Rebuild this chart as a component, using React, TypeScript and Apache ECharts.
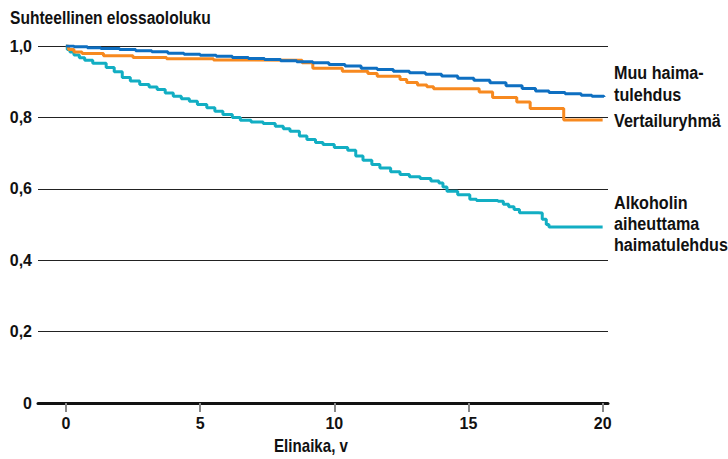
import React, { useEffect, useRef } from "react";
import * as echarts from "echarts";

const FONT = "'Liberation Sans', Arial, sans-serif";

const xTicks = [0, 5, 10, 15, 20];
const yTicks = [0, 0.2, 0.4, 0.6, 0.8, 1.0];

// Muu haimatulehdus
const otherT = [0, 0.3, 0.8, 1.3, 2, 2.6, 3.2, 3.8, 4.4, 5, 5.6, 6.2, 6.8, 7.4, 8, 8.6, 9.2, 9.8, 10.4, 11, 11.6, 12.2, 12.8, 13.4, 14, 14.6, 15.2, 15.8, 16.4, 17, 17.5, 18, 18.6, 19.2, 19.6, 20.05];
const otherS = [1.0, 0.998, 0.995, 0.993, 0.99, 0.987, 0.984, 0.98, 0.977, 0.974, 0.971, 0.968, 0.965, 0.962, 0.959, 0.956, 0.953, 0.948, 0.944, 0.938, 0.934, 0.929, 0.925, 0.921, 0.916, 0.91, 0.904, 0.897, 0.889, 0.881, 0.874, 0.87, 0.866, 0.862, 0.859, 0.857];

// Vertailuryhmä
const refT = [0, 0.1, 0.3, 0.6, 1.4, 2.5, 3.75, 5.5, 7, 8.8, 9.2, 10.3, 11.25, 11.6, 12.45, 12.7, 13.1, 13.45, 13.7, 15.4, 15.9, 16.8, 17.3, 18.55, 20.0];
const refS = [1.0, 0.99, 0.983, 0.979, 0.973, 0.968, 0.964, 0.961, 0.96, 0.953, 0.938, 0.929, 0.923, 0.915, 0.906, 0.898, 0.891, 0.886, 0.88, 0.871, 0.856, 0.843, 0.825, 0.793, 0.793];

// Alkoholin aiheuttama haimatulehdus
const alcT = [0, 0.05, 0.15, 0.3, 0.5, 0.7, 1.0, 1.5, 1.8, 2.1, 2.4, 2.75, 3.1, 3.4, 3.7, 4.0, 4.3, 4.6, 4.9, 5.25, 5.55, 5.85, 6.2, 6.5, 6.9, 7.35, 7.8, 8.1, 8.35, 8.7, 8.98, 9.3, 9.58, 10.0, 10.5, 10.8, 11.07, 11.4, 11.7, 12.1, 12.45, 12.8, 13.2, 13.6, 13.9, 14.05, 14.2, 14.6, 15.05, 15.3, 16.1, 16.3, 16.5, 16.7, 16.9, 17.6, 17.75, 17.9, 18.0, 20.0];
const alcS = [1.0, 0.99, 0.983, 0.975, 0.967, 0.96, 0.952, 0.94, 0.928, 0.912, 0.902, 0.892, 0.885, 0.878, 0.868, 0.859, 0.852, 0.845, 0.836, 0.827, 0.817, 0.808, 0.8, 0.792, 0.787, 0.783, 0.775, 0.768, 0.761, 0.748, 0.738, 0.73, 0.724, 0.716, 0.708, 0.692, 0.68, 0.668, 0.658, 0.648, 0.64, 0.634, 0.629, 0.622, 0.616, 0.605, 0.593, 0.583, 0.571, 0.567, 0.565, 0.557, 0.55, 0.542, 0.533, 0.532, 0.515, 0.5, 0.493, 0.493];

const zip = (t: number[], s: number[]) => t.map((v, i) => [v, s[i]]);

export default function App() {
  const ref = useRef<HTMLDivElement>(null);
  useEffect(() => {
    if (!ref.current) return;
    const chart = echarts.init(ref.current, null, { renderer: "svg" });
    const txt = (text: string, x: number, y: number, size: number, sx: number, align = "left") => ({
      type: "text",
      x,
      y,
      scaleX: sx,
      style: {
        text,
        fontFamily: FONT,
        fontWeight: "bold",
        fontSize: size,
        fill: "#111",
        align,
        verticalAlign: "middle",
      },
    });
    chart.setOption({
      animation: false,
      backgroundColor: "#fff",
      grid: { left: 38, right: 120, top: 46, bottom: 56, containLabel: false },
      xAxis: {
        type: "value",
        min: -1.04,
        max: 20.2,
        splitLine: { show: false },
        axisLine: { show: true, onZero: false, lineStyle: { color: "#111", width: 3 } },
        axisTick: { show: true, customValues: xTicks, length: 9, lineStyle: { color: "#888", width: 2 } },
        axisLabel: {
          customValues: xTicks,
          margin: 12,
          fontFamily: FONT,
          fontWeight: "bold",
          fontSize: 16,
          color: "#111",
        },
      },
      yAxis: {
        type: "value",
        min: 0,
        max: 1,
        interval: 0.2,
        axisLine: { show: false },
        axisTick: { show: false },
        splitLine: { show: true, lineStyle: { color: "#222", width: 1 } },
        axisLabel: {
          margin: 6,
          fontFamily: FONT,
          fontWeight: "bold",
          fontSize: 16,
          color: "#111",
          formatter: (v: number) => (v === 0 ? "0" : v.toFixed(1).replace(".", ",")),
        },
      },
      series: [
        {
          type: "line",
          step: "end",
          data: zip(alcT, alcS),
          symbol: "none",
          lineStyle: { color: "#12aec3", width: 3 },
        },
        {
          type: "line",
          step: "end",
          data: zip(refT, refS),
          symbol: "none",
          lineStyle: { color: "#f7891f", width: 3 },
        },
        {
          type: "line",
          step: "end",
          data: zip(otherT, otherS),
          symbol: "none",
          lineStyle: { color: "#0e6fc1", width: 3 },
        },
      ],
      graphic: [
        txt("Suhteellinen elossaololuku", 10, 17, 19, 0.82),
        txt("Elinaika, v", 311, 446, 18, 0.84, "center"),
        txt("Muu haima-", 614, 73, 19, 0.85),
        txt("tulehdus", 614, 95, 19, 0.85),
        txt("Vertailuryhmä", 614, 121, 19, 0.85),
        txt("Alkoholin", 614, 203, 19, 0.85),
        txt("aiheuttama", 614, 224, 19, 0.85),
        txt("haimatulehdus", 614, 245, 19, 0.85),
      ],
    });
    return () => chart.dispose();
  }, []);
  return <div ref={ref} style={{ width: 728, height: 459, position: "absolute", left: 0, top: 0 }} />;
}
